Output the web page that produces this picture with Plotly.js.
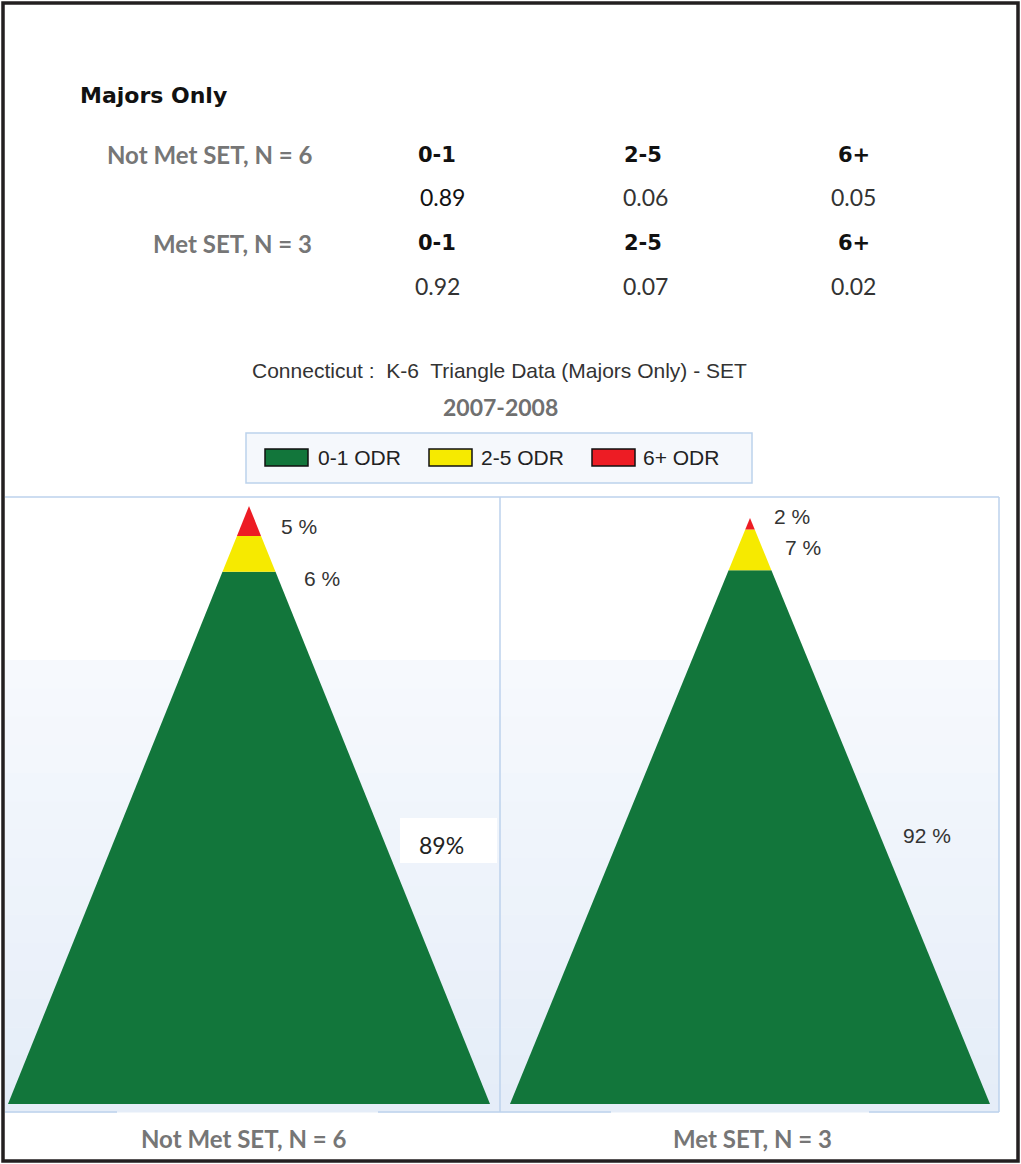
<!DOCTYPE html>
<html>
<head>
<meta charset="utf-8">
<script src="https://cdn.plot.ly/plotly-3.0.1.min.js"></script>
<style>
  html, body { margin: 0; padding: 0; background: #ffffff; }
  #chart { width: 1021px; height: 1164px; }
</style>
</head>
<body>
<div id="chart"></div>
<script>
// ---------------- data ----------------
const groups = ["Not Met SET, N = 6", "Met SET, N = 3"];
const categories = ["0-1", "2-5", "6+"];
const legendNames = ["0-1 ODR", "2-5 ODR", "6+ ODR"];
const notMetValues = [0.89, 0.06, 0.05];
const metValues = [0.92, 0.07, 0.02];
const notMetLabels = ["89%", "6 %", "5 %"];
const metLabels = ["92 %", "7 %", "2 %"];
const tableNotMet = ["0.89", "0.06", "0.05"];
const tableMet = ["0.92", "0.07", "0.02"];
const chartTitle = "Connecticut :  K-6  Triangle Data (Majors Only) - SET";
const chartYear = "2007-2008";
const sectionTitle = "Majors Only";

// ---------------- styling ----------------
const colors = ["#12763b", "#f6ea00", "#ed1c24"];
const W = 1021, H = 1164;
const px = x => x / W;
const py = y => 1 - y / H;

// build triangle segments from the data (cumulative from base up)
function segmentTraces(values, xa, ya) {
  const total = values.reduce((a, b) => a + b, 0);
  const hw = y => 0.5 * (1 - y / total);
  const traces = [];
  let base = 0;
  values.forEach((v, i) => {
    const y0 = base, y1 = base + v;
    traces.push({
      type: "scatter", mode: "lines", fill: "toself",
      x: [-hw(y0), hw(y0), hw(y1), -hw(y1), -hw(y0)],
      y: [y0, y0, y1, y1, y0],
      xaxis: xa, yaxis: ya,
      fillcolor: colors[i], line: { width: 0, color: colors[i] },
      hoverinfo: "skip", showlegend: false, name: legendNames[i]
    });
    base = y1;
  });
  return { traces, total };
}

const left = segmentTraces(notMetValues, "x", "y");
const right = segmentTraces(metValues, "x2", "y2");
const data = [...left.traces, ...right.traces];

const shapes = [];
const annotations = [];

// panel background: white top, light blue gradient bottom
const gradTop = 660, gradBot = 1112, nBands = 16;
const c0 = [246, 249, 253], c1 = [229, 237, 248];
for (let i = 0; i < nBands; i++) {
  const t = i / (nBands - 1);
  const c = c0.map((v, k) => Math.round(v + (c1[k] - v) * t));
  const ya = gradTop + (gradBot - gradTop) * i / nBands;
  const yb = gradTop + (gradBot - gradTop) * (i + 1) / nBands;
  shapes.push({ type: "rect", xref: "paper", yref: "paper", layer: "below",
    x0: px(5), x1: px(999), y0: py(ya), y1: py(yb + 0.5),
    fillcolor: `rgb(${c[0]},${c[1]},${c[2]})`, line: { width: 0 } });
}
const panelLine = "#bcd2ec";
// panel borders
shapes.push({ type: "line", xref: "paper", yref: "paper", x0: px(5), x1: px(999), y0: py(497), y1: py(497), line: { color: panelLine, width: 1.5 } });
shapes.push({ type: "line", xref: "paper", yref: "paper", x0: px(500), x1: px(500), y0: py(497), y1: py(1112), line: { color: panelLine, width: 1.5 } });
shapes.push({ type: "line", xref: "paper", yref: "paper", x0: px(999), x1: px(999), y0: py(497), y1: py(1112), line: { color: panelLine, width: 1.5 } });
[[5, 117], [378, 611], [869, 999]].forEach(s => {
  shapes.push({ type: "line", xref: "paper", yref: "paper", x0: px(s[0]), x1: px(s[1]), y0: py(1112), y1: py(1112), line: { color: panelLine, width: 1.5 } });
});

// legend box
shapes.push({ type: "rect", xref: "paper", yref: "paper", x0: px(246), x1: px(752), y0: py(433), y1: py(483),
  fillcolor: "#f5f8fc", line: { color: "#bcd2ec", width: 1.5 } });
const swX = [265, 429, 592];
const txtX = [316, 479, 641];
legendNames.forEach((n, i) => {
  shapes.push({ type: "rect", xref: "paper", yref: "paper", x0: px(swX[i]), x1: px(swX[i] + 43), y0: py(449), y1: py(466),
    fillcolor: colors[i], line: { color: "#111111", width: 1.5 } });
  annotations.push({ xref: "paper", yref: "paper", x: px(txtX[i]), y: py(458), xanchor: "left", yanchor: "middle",
    text: n, showarrow: false, font: { family: "Liberation Sans, Arial, sans-serif", size: 21, color: "#222222" } });
});

// white box behind 89%
shapes.push({ type: "rect", xref: "paper", yref: "paper", x0: px(400), x1: px(497), y0: py(818), y1: py(863),
  fillcolor: "#ffffff", line: { width: 0 }, layer: "above" });

// outer frame
shapes.push({ type: "rect", xref: "paper", yref: "paper", x0: px(3), x1: px(1018), y0: py(3), y1: py(1161),
  line: { color: "#231f20", width: 3.5 }, fillcolor: "rgba(0,0,0,0)" });

// top section text
annotations.push({ xref: "paper", yref: "paper", x: px(78), y: py(95), xanchor: "left", yanchor: "middle",
  text: "<b>" + sectionTitle + "</b>", showarrow: false, font: { family: "DejaVu Sans, Verdana, sans-serif", size: 22, color: "#111111" } });

const rowLabelFont = { family: "Lato, Open Sans, sans-serif", size: 24, color: "#767676" };
const headFont = { family: "DejaVu Sans, Verdana, sans-serif", size: 21, color: "#111111" };
const valFont = { family: "Lato, Open Sans, sans-serif", size: 23, color: "#222222" };
const colX = [437, 643, 854];
const rowsY = [[155, 197], [243, 286]];
const tableVals = [tableNotMet, tableMet];
const valX = [[442, 645, 853], [437, 645, 853]];
groups.forEach((g, r) => {
  annotations.push({ xref: "paper", yref: "paper", x: px(314), y: py(rowsY[r][0]), xanchor: "right", yanchor: "middle",
    text: "<b>" + g + "</b>", showarrow: false, font: rowLabelFont });
  categories.forEach((c, k) => {
    annotations.push({ xref: "paper", yref: "paper", x: px(colX[k]), y: py(rowsY[r][0]), xanchor: "center", yanchor: "middle",
      text: "<b>" + c + "</b>", showarrow: false, font: headFont });
    annotations.push({ xref: "paper", yref: "paper", x: px(valX[r][k]), y: py(rowsY[r][1]), xanchor: "center", yanchor: "middle",
      text: tableVals[r][k], showarrow: false, font: { ...valFont, color: r === 0 && k === 0 ? "#111111" : "#333333" } });
  });
});

// chart title
annotations.push({ xref: "paper", yref: "paper", x: px(499), y: py(370), xanchor: "center", yanchor: "middle",
  text: chartTitle, showarrow: false, font: { family: "Liberation Sans, Arial, sans-serif", size: 21, color: "#333333" } });
annotations.push({ xref: "paper", yref: "paper", x: px(500), y: py(407), xanchor: "center", yanchor: "middle",
  text: "<b>" + chartYear + "</b>", showarrow: false, font: { family: "Lato, Open Sans, sans-serif", size: 23, color: "#707070" } });

// percentage labels
const pctFont = { family: "Liberation Sans, Arial, sans-serif", size: 21, color: "#333333" };
const leftLabelPos = [[441, 845, "center"], [302, 578, "left"], [279, 527, "left"]];
const rightLabelPos = [[901, 835, "left"], [783, 547, "left"], [772, 516, "left"]];
notMetLabels.forEach((t, i) => {
  const p = leftLabelPos[i];
  annotations.push({ xref: "paper", yref: "paper", x: px(p[0]), y: py(p[1]), xanchor: p[2], yanchor: "middle",
    text: t, showarrow: false,
    font: i === 0 ? { family: "Lato, Open Sans, sans-serif", size: 23, color: "#222222" } : pctFont });
});
metLabels.forEach((t, i) => {
  const p = rightLabelPos[i];
  annotations.push({ xref: "paper", yref: "paper", x: px(p[0]), y: py(p[1]), xanchor: p[2], yanchor: "middle",
    text: t, showarrow: false, font: pctFont });
});

// bottom group labels
const bottomX = [243, 752];
groups.forEach((g, i) => {
  annotations.push({ xref: "paper", yref: "paper", x: px(bottomX[i]), y: py(1138), xanchor: "center", yanchor: "middle",
    text: "<b>" + g + "</b>", showarrow: false, font: rowLabelFont });
});

const axisOff = { visible: false, showgrid: false, zeroline: false, fixedrange: true };
const layout = {
  width: W, height: H,
  margin: { l: 0, r: 0, t: 0, b: 0 },
  paper_bgcolor: "#ffffff", plot_bgcolor: "rgba(0,0,0,0)",
  showlegend: false,
  xaxis: { ...axisOff, domain: [px(8), px(490)], range: [-0.5, 0.5] },
  yaxis: { ...axisOff, domain: [py(1104), py(506)], range: [0, left.total] },
  xaxis2: { ...axisOff, domain: [px(510), px(990)], range: [-0.5, 0.5], anchor: "y2" },
  yaxis2: { ...axisOff, domain: [py(1104), py(518)], range: [0, right.total], anchor: "x2" },
  shapes, annotations
};

Plotly.newPlot("chart", data, layout, { staticPlot: true, displayModeBar: false });
</script>
</body>
</html>
